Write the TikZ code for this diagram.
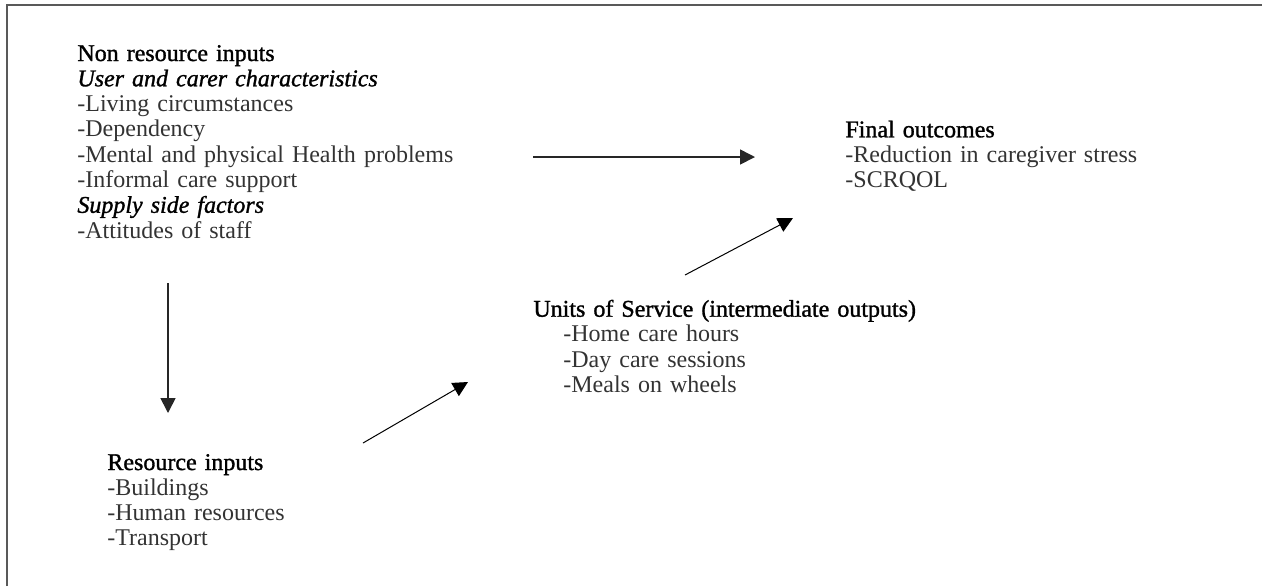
\documentclass[tikz,border=0pt]{standalone}
\usepackage{fontspec}
\setmainfont{Liberation Serif}
\newfontface\headfont{Liberation Serif}[FakeBold=1.2]
\newfontface\headit{Liberation Serif Italic}[FakeBold=1.2]
\usetikzlibrary{arrows.meta,positioning}
\newcommand{\lst}[1]{\textcolor{black!80}{-#1}}

\begin{document}
\begin{tikzpicture}[
    x=0.5pt, y=-0.5pt,
    block/.style={anchor=base west, inner sep=0pt, align=left, text width=9cm,
                  font=\fontsize{12}{12.65}\selectfont},
    flow/.style={-{Triangle[length=7.5pt,width=7.5pt]}, line width=0.8pt, black!85},
    thinflow/.style={flow, line width=0.5pt, black},
]
  \useasboundingbox (0,0) rectangle (1262,586);

  % Frame (top and left only)
  \draw[black!65, line width=1pt] (7,586) -- (7,5) -- (1262,5);

  % Blocks
  \node[block] (nonres) at (77,61) {{\headfont Non resource inputs}\\
    {\headit User and carer characteristics}\\
    \lst{Living circumstances}\\
    \lst{Dependency}\\
    \lst{Mental and physical Health problems}\\
    \lst{Informal care support}\\
    {\headit Supply side factors}\\
    \lst{Attitudes of staff}};

  \node[block] (final) at (845,137.3) {{\headfont Final outcomes}\\
    \lst{Reduction in caregiver stress}\\
    \lst{SCRQOL}};

  \node[block] (units) at (533,316.7) {\headfont Units of Service (intermediate outputs)};
  \node[block] (unitlist) at (563,341.7) {\lst{Home care hours}\\
    \lst{Day care sessions}\\
    \lst{Meals on wheels}};

  \node[block] (res) at (107,470) {{\headfont Resource inputs}\\
    \lst{Buildings}\\
    \lst{Human resources}\\
    \lst{Transport}};

  % Arrow ends
  \coordinate (nr-east) at (533,157);
  \coordinate (fo-west) at (755,157);
  \coordinate (nr-south) at (168,283);
  \coordinate (ri-north) at (168,413);
  \coordinate (ri-east) at (363,443);
  \coordinate (us-west) at (468,382);
  \coordinate (us-north) at (685,275);
  \coordinate (fo-south) at (793,218);

  % Arrows
  \draw[flow] (nr-east) -- (fo-west);
  \draw[flow] (nr-south) -- (ri-north);
  \draw[thinflow] (ri-east) -- (us-west);
  \draw[thinflow] (us-north) -- (fo-south);
\end{tikzpicture}
\end{document}
